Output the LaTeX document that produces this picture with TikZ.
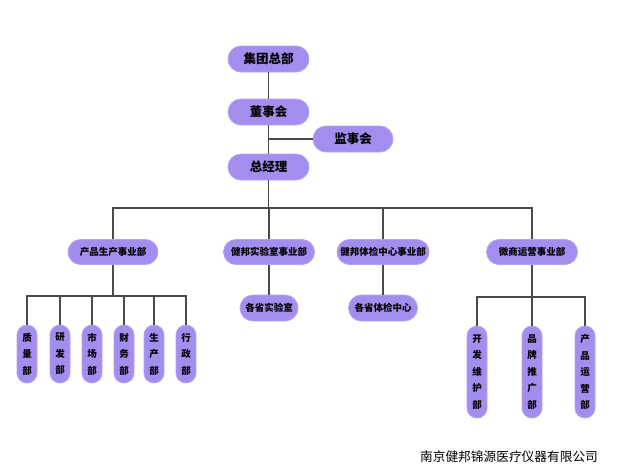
\documentclass[tikz,border=0pt]{standalone}
\usepackage{fontspec}
\newfontfamily\cjk{Noto Sans CJK SC}
\definecolor{boxfill}{HTML}{A38EF0}
\definecolor{boxedge}{HTML}{B4A2F4}
\definecolor{linec}{HTML}{4A4A4A}
\begin{document}
\begin{tikzpicture}[x=1pt,y=-1pt,
  box/.style={fill=boxfill,draw=boxedge,line width=0.8pt,inner sep=0pt,align=center},
  topbox/.style={box,minimum width=81pt,minimum height=26pt,rounded corners=13pt,
     font=\cjk\bfseries\fontsize{12.5}{14}\selectfont},
  midbox/.style={box,minimum height=25pt,rounded corners=12.5pt,
     font=\cjk\bfseries\fontsize{9.5}{11}\selectfont},
  lowbox/.style={box,minimum height=26pt,rounded corners=13pt,
     font=\cjk\bfseries\fontsize{9.5}{11}\selectfont},
  vbox/.style={box,minimum width=20pt,rounded corners=10pt,
     font=\cjk\bfseries\fontsize{9.5}{16.5}\selectfont},
  conn/.style={draw=linec,line width=1.2pt}]
\fill[white] (0,0) rectangle (617,471);
\useasboundingbox (0,0) rectangle (617,471);

\node[topbox] (g) at (268.5,59) {集团总部};
\node[topbox] (b) at (268.5,112) {董事会};
\node[topbox,minimum width=80pt] (s) at (353,139) {监事会};
\node[topbox] (m) at (268.5,167) {总经理};

\node[midbox,minimum width=90pt] (p1) at (113,252) {产品生产事业部};
\node[midbox,minimum width=91pt] (p2) at (269,252) {健邦实验室事业部};
\node[midbox,minimum width=92pt] (p3) at (383,252) {健邦体检中心事业部};
\node[midbox,minimum width=91pt] (p4) at (532,252) {微商运营事业部};

\node[lowbox,minimum width=58pt] (c2) at (269,308) {各省实验室};
\node[lowbox,minimum width=69pt] (c3) at (383,308) {各省体检中心};

\node[vbox,minimum height=58pt] (k1) at (27,354) {质\\量\\部};
\node[vbox,minimum height=58pt] (k2) at (60,354) {研\\发\\部};
\node[vbox,minimum height=58pt] (k3) at (92,354) {市\\场\\部};
\node[vbox,minimum height=58pt] (k4) at (124,354) {财\\务\\部};
\node[vbox,minimum height=58pt] (k5) at (154,354) {生\\产\\部};
\node[vbox,minimum height=58pt] (k6) at (186,354) {行\\政\\部};

\node[vbox,minimum height=92pt] (w1) at (477,372) {开\\发\\维\\护\\部};
\node[vbox,minimum height=92pt] (w2) at (532,372) {品\\牌\\推\\广\\部};
\node[vbox,minimum height=92pt] (w3) at (585,372) {产\\品\\运\\营\\部};

\node[font=\cjk\fontsize{12.7}{14}\selectfont,inner sep=0pt] (foot) at (509,457) {南京健邦锦源医疗仪器有限公司};

\coordinate (bar) at (0,208);
\coordinate (bar1) at (0,296);
\coordinate (bar4) at (0,297);

\draw[conn] (g.south) -- (b.north);
\draw[conn] (b.south) -- (m.north);
\draw[conn] (s.west) -- (m.north |- s.west);
\draw[conn] (m.south) -- (m.south |- bar);
\draw[conn] (p1.north) -- (p1.north |- bar) -- (p4.north |- bar) -- (p4.north);
\draw[conn] (p2.north) -- (p2.north |- bar);
\draw[conn] (p3.north) -- (p3.north |- bar);
\draw[conn] (p2.south) -- (c2.north);
\draw[conn] (p3.south) -- (c3.north);

\draw[conn] (p1.south) -- (p1.south |- bar1);
\draw[conn] (k1.north) -- (k1.north |- bar1) -- (k6.north |- bar1) -- (k6.north);
\foreach \k in {k2,k3,k4,k5} \draw[conn] (\k.north) -- (\k.north |- bar1);

\draw[conn] (p4.south) -- (w2.north);
\draw[conn] (w1.north) -- (w1.north |- bar4) -- (w3.north |- bar4) -- (w3.north);
\end{tikzpicture}
\end{document}
